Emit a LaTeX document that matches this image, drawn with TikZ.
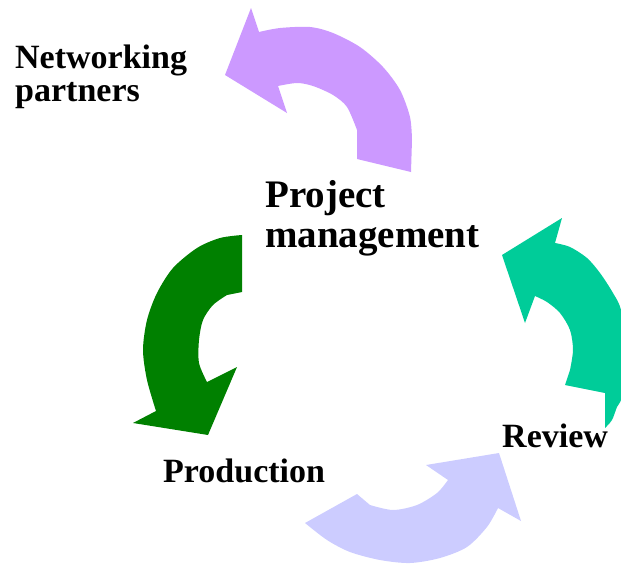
\documentclass[tikz,border=0pt]{standalone}
\usepackage{fontspec}
\setmainfont{Liberation Serif}
\definecolor{lilac}{HTML}{CC99FF}
\definecolor{leaf}{HTML}{008000}
\definecolor{lavender}{HTML}{CCCCFF}
\definecolor{mint}{HTML}{00CC99}
\begin{document}
\begin{tikzpicture}[x=1pt,y=-1pt,
   every node/.style={inner sep=0pt},
   big/.style={font=\fontsize{39}{40}\selectfont\bfseries,align=left},
   txt/.style={font=\fontsize{34}{33}\selectfont\bfseries,align=left}]
\useasboundingbox (0,0) rectangle (621,565);
\clip (0,0) rectangle (621,565);

% top arrow
\fill[lilac] (411,172) -- (357,159)
   -- plot[smooth] coordinates {(357,130) (347,107) (333,95) (313,86) (297,83) (278,86)}
   -- (287,113) -- (225,75) -- (251,8)
   -- plot[smooth] coordinates {(259,32) (280,28) (310,27) (333,33) (360,47) (383,67) (400,90) (410,117) (412,140)}
   -- cycle;
% left arrow
\fill[leaf] (242,235) -- (242,292)
   -- plot[smooth] coordinates {(227,295) (213,305) (203,320) (199,340) (199,363) (207,382)}
   -- (237,367) -- (208,435) -- (133,423)
   -- plot[smooth] coordinates {(156,411) (147,380) (143,350) (147,320) (157,293) (173,268) (197,248) (220,238) (242,235)}
   -- cycle;
% bottom arrow
\fill[lavender] (305,523) -- (357,494)
   -- plot[smooth] coordinates {(370,505) (393,510) (417,505) (437,493) (448,480)}
   -- (426,465) -- (499,453) -- (521,521)
   -- plot[smooth] coordinates {(498,508) (487,527) (467,547) (440,558) (410,563) (380,560) (350,552) (327,540) (305,523)}
   -- cycle;
% right arrow
\fill[mint] (605,428) -- (605,393) -- (565,385)
   -- plot[smooth] coordinates {(570,370) (573,350) (570,330) (560,313) (547,302) (535,296)}
   -- (525,323) -- (502,255) -- (562,218)
   -- plot[smooth] coordinates {(555,243) (570,247) (587,258) (600,273) (613,293) (621,310) (627,350) (626,380) (621,400) (617,407) (612,420) (605,428)}
   -- cycle;

% base of a two-line node is the last line
\node[txt,anchor=base west] (partners) at (15,101) {Networking\\partners};
\node[big,anchor=base west] (project) at (265,247) {Project\\management};
\node[txt,anchor=base west] (production) at (163,482) {Production};
\node[txt,anchor=base west] (review) at (502,447) {Review};
\end{tikzpicture}
\end{document}
